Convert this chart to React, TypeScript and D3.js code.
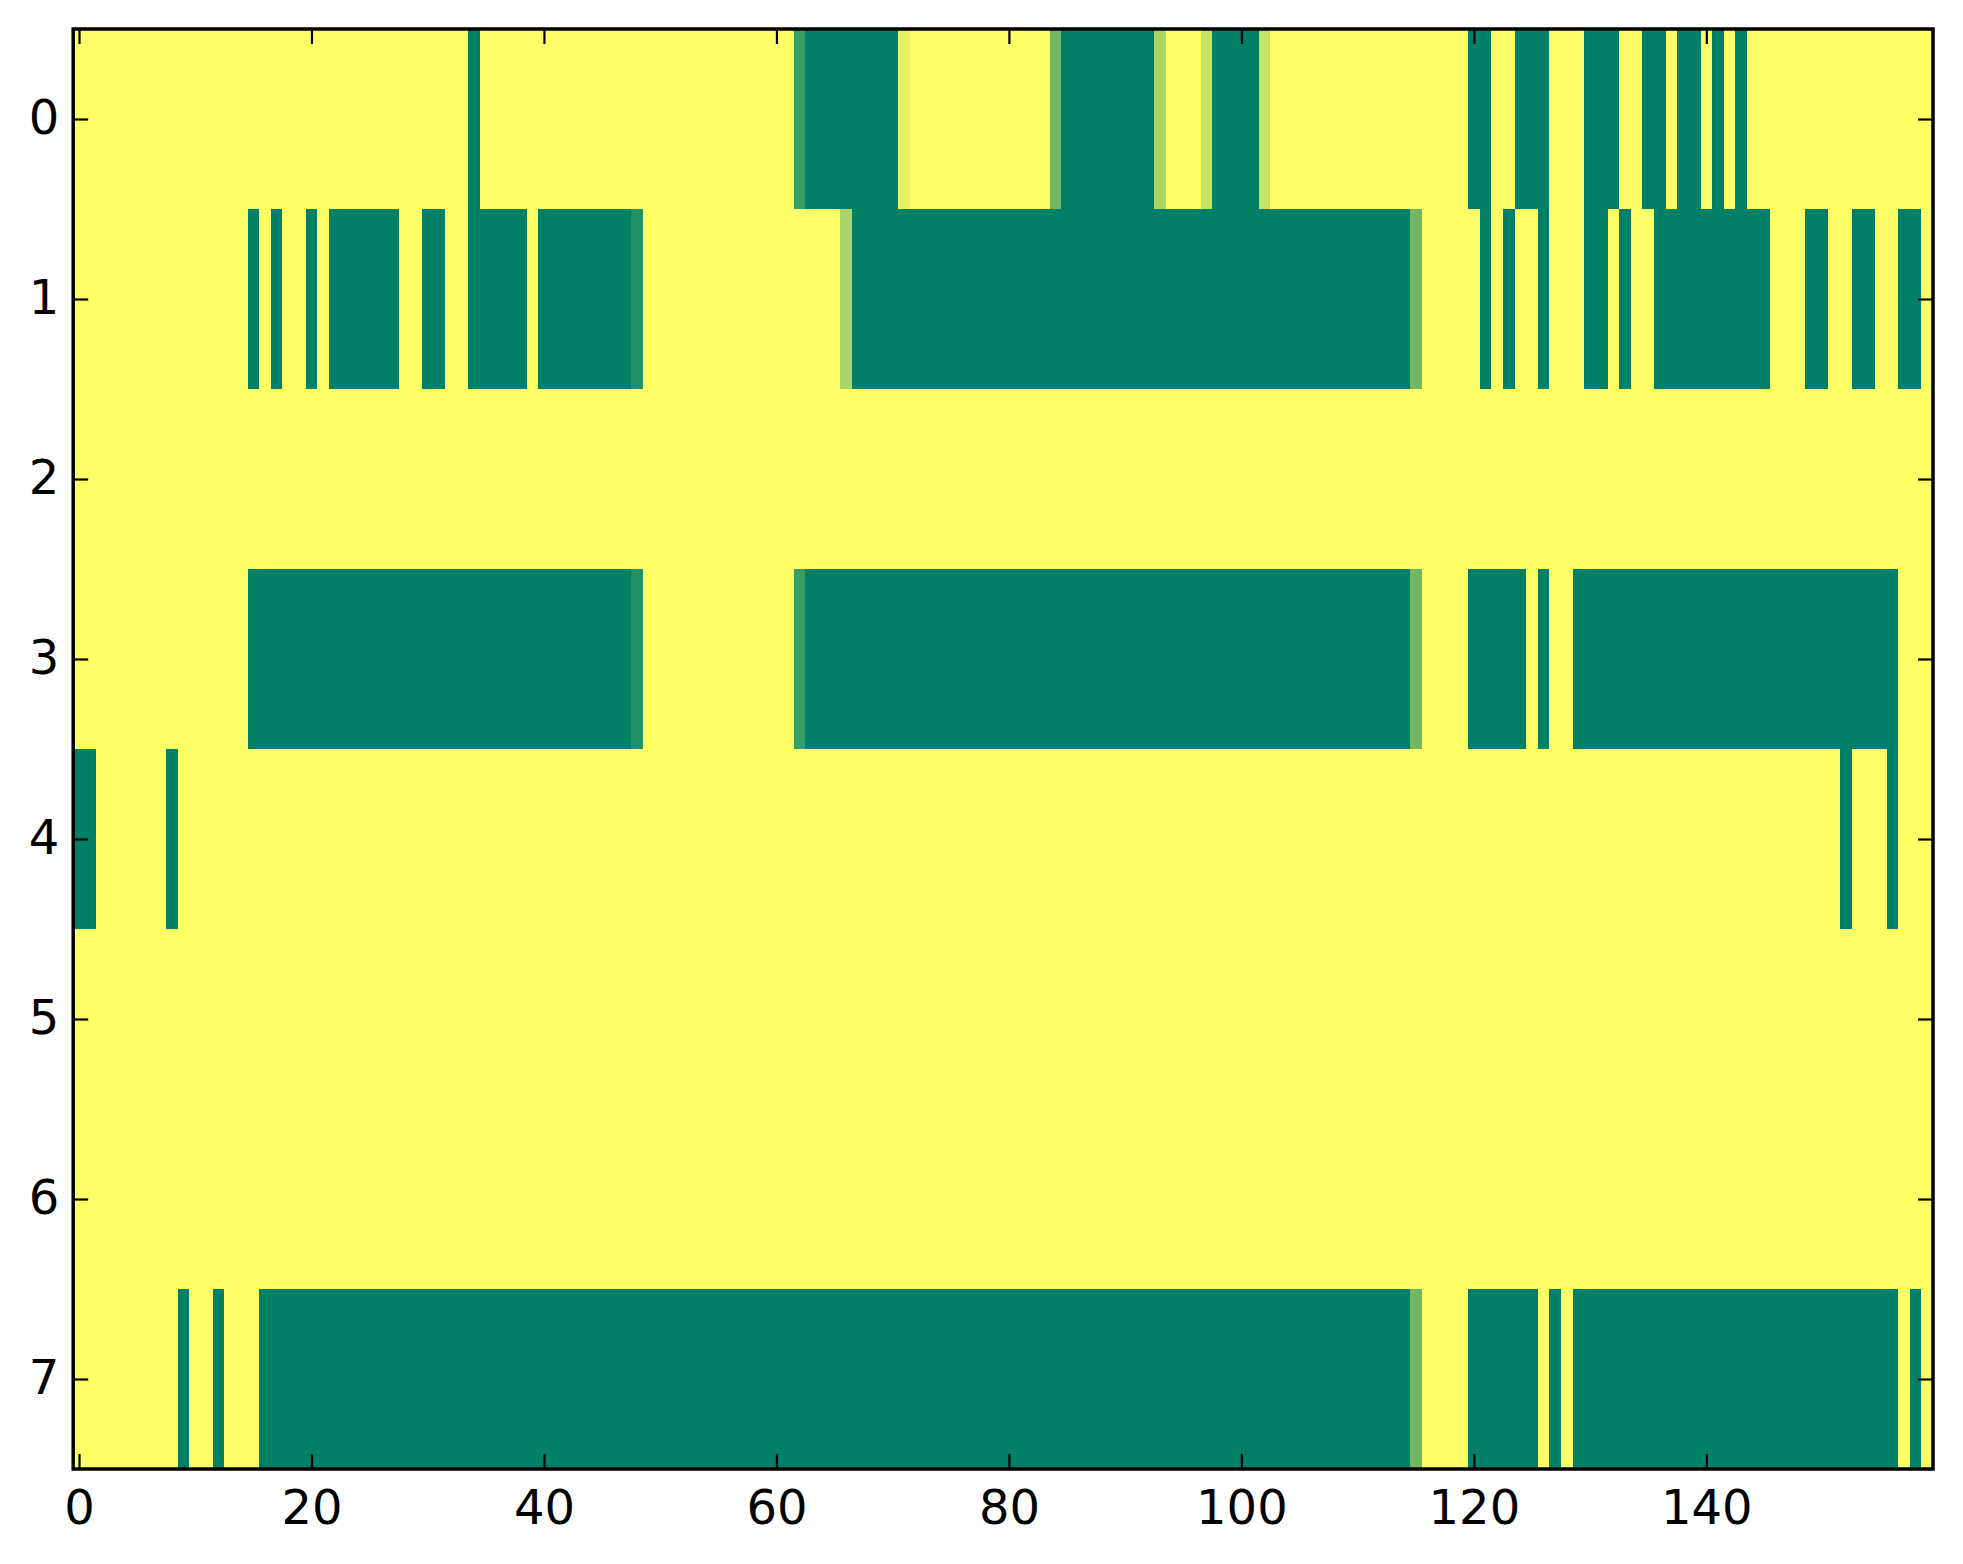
import * as d3 from 'd3';
import { useLayoutEffect, useRef } from 'react';

// each run: [first column, last column, value] (0 = dark green, 1 = yellow)
type Run = [number, number, number];

const rowLabels = ['0', '1', '2', '3', '4', '5', '6', '7'];
const xTicks = [0, 20, 40, 60, 80, 100, 120, 140];
const NCOLS = 160;

const row0: Run[] = [
  [0, 33, 1], [34, 34, 0], [35, 61, 1], [62, 62, 0.23], [63, 70, 0], [71, 71, 0.9],
  [72, 83, 1], [84, 84, 0.44], [85, 92, 0], [93, 93, 0.67], [94, 96, 1], [97, 97, 0.78],
  [98, 101, 0], [102, 102, 0.78], [103, 119, 1], [120, 121, 0], [122, 123, 1], [124, 126, 0],
  [127, 129, 1], [130, 132, 0], [133, 134, 1], [135, 136, 0], [137, 137, 1], [138, 139, 0],
  [140, 140, 1], [141, 141, 0], [142, 142, 1], [143, 143, 0], [144, 159, 1],
];
const row1: Run[] = [
  [0, 14, 1], [15, 15, 0], [16, 16, 1], [17, 17, 0], [18, 19, 1], [20, 20, 0], [21, 21, 1],
  [22, 27, 0], [28, 29, 1], [30, 31, 0], [32, 33, 1], [34, 38, 0], [39, 39, 1], [40, 47, 0],
  [48, 48, 0.13], [49, 65, 1], [66, 66, 0.67], [67, 114, 0], [115, 115, 0.44], [116, 120, 1],
  [121, 121, 0], [122, 122, 1], [123, 123, 0], [124, 125, 1], [126, 126, 0], [127, 129, 1],
  [130, 131, 0], [132, 132, 1], [133, 133, 0], [134, 135, 1], [136, 145, 0], [146, 148, 1],
  [149, 150, 0], [151, 152, 1], [153, 154, 0], [155, 156, 1], [157, 158, 0], [159, 159, 1],
];
const row2: Run[] = [[0, 159, 1]];
const row3: Run[] = [
  [0, 14, 1], [15, 47, 0], [48, 48, 0.13], [49, 61, 1], [62, 62, 0.23], [63, 114, 0],
  [115, 115, 0.44], [116, 119, 1], [120, 124, 0], [125, 125, 1], [126, 126, 0], [127, 128, 1],
  [129, 156, 0], [157, 159, 1],
];
const row4: Run[] = [
  [0, 1, 0], [2, 7, 1], [8, 8, 0], [9, 151, 1], [152, 152, 0], [153, 155, 1], [156, 156, 0],
  [157, 159, 1],
];
const row5: Run[] = [[0, 159, 1]];
const row6: Run[] = [[0, 159, 1]];
const row7: Run[] = [
  [0, 8, 1], [9, 9, 0], [10, 11, 1], [12, 12, 0], [13, 15, 1], [16, 114, 0], [115, 115, 0.44],
  [116, 119, 1], [120, 125, 0], [126, 126, 1], [127, 127, 0], [128, 128, 1], [129, 156, 0],
  [157, 157, 1], [158, 158, 0], [159, 159, 1],
];

const rows = [row0, row1, row2, row3, row4, row5, row6, row7];

const W = 1963;
const H = 1564;

export default function App() {
  const ref = useRef<SVGSVGElement>(null);

  useLayoutEffect(() => {
    if (!ref.current) return;
    const svg = d3.select(ref.current);
    svg.selectAll('*').remove();

    const margin = { top: 29, right: 30, bottom: 95, left: 73.2 };
    const x = d3
      .scaleLinear()
      .domain([-0.5, NCOLS - 0.5])
      .range([margin.left, W - margin.right]);
    const y = d3
      .scaleLinear()
      .domain([-0.5, rows.length - 0.5])
      .range([margin.top, H - margin.bottom]);
    // matplotlib "summer": linear from (0,.5,.4) to (1,1,.4)
    const color = d3.scaleSequential(d3.interpolateRgb('#008066', '#ffff66')).domain([0, 1]);

    const cells = rows.flatMap((runs, r) =>
      runs.flatMap(([a, b, v]) => d3.range(a, b + 1).map((c) => ({ r, c, v }))),
    );

    // image cells
    svg
      .append('g')
      .selectAll('rect')
      .data(cells)
      .join('rect')
      .attr('x', (d) => x(d.c - 0.5))
      .attr('y', (d) => y(d.r - 0.5))
      .attr('width', (d) => x(d.c + 0.5) - x(d.c - 0.5) + 0.3)
      .attr('height', (d) => y(d.r + 0.5) - y(d.r - 0.5) + 0.3)
      .attr('fill', (d) => color(d.v))
      .attr('shape-rendering', 'crispEdges');

    const font = 'DejaVu Sans, sans-serif';
    const tickLen = 15;

    // bottom axis with labels, ticks pointing in
    const xAxis = svg
      .append('g')
      .attr('transform', `translate(0,${y(rows.length - 0.5)})`)
      .call(d3.axisBottom(x).tickValues(xTicks).tickSizeInner(-tickLen).tickSizeOuter(0));
    xAxis
      .selectAll('text')
      .attr('y', 55)
      .attr('dy', null)
      .attr('font-size', 48)
      .attr('font-family', font)
      .attr('fill', '#000');

    // left axis with labels
    const yAxis = svg
      .append('g')
      .attr('transform', `translate(${x(-0.5)},0)`)
      .call(
        d3
          .axisLeft(y)
          .tickValues(d3.range(rows.length))
          .tickFormat((d) => rowLabels[d as number])
          .tickSizeInner(-tickLen)
          .tickSizeOuter(0),
      );
    yAxis
      .selectAll('text')
      .attr('x', -14)
      .attr('dy', '14px')
      .attr('font-size', 48)
      .attr('font-family', font)
      .attr('fill', '#000');

    // top and right: ticks only
    svg
      .append('g')
      .attr('transform', `translate(0,${y(-0.5)})`)
      .call(
        d3.axisTop(x).tickValues(xTicks).tickSizeInner(-tickLen).tickSizeOuter(0).tickFormat(() => ''),
      );
    svg
      .append('g')
      .attr('transform', `translate(${x(NCOLS - 0.5)},0)`)
      .call(
        d3
          .axisRight(y)
          .tickValues(d3.range(rows.length))
          .tickSizeInner(-tickLen)
          .tickSizeOuter(0)
          .tickFormat(() => ''),
      );

    svg.selectAll('.domain').remove();
    svg.selectAll('.tick line').attr('stroke', '#000').attr('stroke-width', 2.2);

    // frame
    svg
      .append('rect')
      .attr('x', x(-0.5))
      .attr('y', y(-0.5))
      .attr('width', x(NCOLS - 0.5) - x(-0.5))
      .attr('height', y(rows.length - 0.5) - y(-0.5))
      .attr('fill', 'none')
      .attr('stroke', '#000')
      .attr('stroke-width', 3.5);
  }, []);

  return (
    <svg
      ref={ref}
      width={W}
      height={H}
      style={{ position: 'absolute', left: 0, top: 0, background: '#fff' }}
    />
  );
}
